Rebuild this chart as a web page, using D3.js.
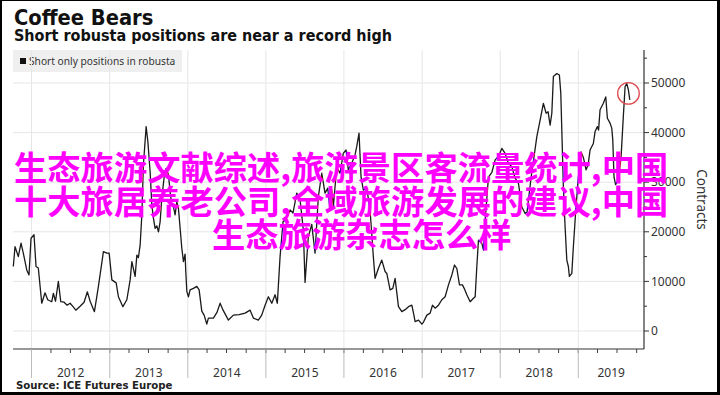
<!DOCTYPE html>
<html>
<head>
<meta charset="utf-8">
<script src="https://cdn.jsdelivr.net/npm/d3@7"></script>
<style>
  body { margin: 0; background: #fff; }
  svg { display: block; }
</style>
</head>
<body>
<script>
// weekly short positions, dates as decimal years, values in contracts
var dates = [
  2011.767, 2011.789, 2011.831, 2011.866, 2011.895, 2011.939, 2011.968, 2011.994,
  2012.032, 2012.058, 2012.087, 2012.131, 2012.173, 2012.207, 2012.259, 2012.279,
  2012.307, 2012.343, 2012.374, 2012.416, 2012.455, 2012.493, 2012.531, 2012.566,
  2012.621, 2012.672, 2012.714, 2012.749, 2012.804, 2012.855, 2012.919, 2012.963,
  2012.992, 2013.027, 2013.082, 2013.111, 2013.168, 2013.219, 2013.261, 2013.283,
  2013.325, 2013.347, 2013.367, 2013.389, 2013.411, 2013.431, 2013.466, 2013.488,
  2013.517, 2013.539, 2013.560, 2013.581, 2013.603, 2013.624, 2013.645, 2013.667,
  2013.700, 2013.722, 2013.752, 2013.773, 2013.795, 2013.816, 2013.837, 2013.859,
  2013.880, 2013.923, 2013.944, 2013.965, 2013.974, 2013.987, 2014.008, 2014.029,
  2014.072, 2014.115, 2014.145, 2014.179, 2014.209, 2014.243, 2014.264, 2014.328,
  2014.375, 2014.414, 2014.452, 2014.520, 2014.584, 2014.657, 2014.734, 2014.798,
  2014.840, 2014.904, 2014.947, 2014.990, 2015.032, 2015.076, 2015.118, 2015.147,
  2015.182, 2015.220, 2015.259, 2015.310, 2015.348, 2015.396, 2015.438, 2015.480,
  2015.502, 2015.544, 2015.588, 2015.630, 2015.672, 2015.716, 2015.758, 2015.793,
  2015.822, 2015.844, 2015.864, 2015.908, 2015.950, 2015.992, 2016.027, 2016.056,
  2016.100, 2016.142, 2016.164, 2016.193, 2016.219, 2016.248, 2016.292, 2016.334,
  2016.376, 2016.398, 2016.440, 2016.484, 2016.526, 2016.548, 2016.590, 2016.625,
  2016.654, 2016.697, 2016.740, 2016.782, 2016.825, 2016.868, 2016.889, 2016.910,
  2016.953, 2016.996, 2017.017, 2017.060, 2017.102, 2017.132, 2017.166, 2017.209,
  2017.252, 2017.294, 2017.337, 2017.380, 2017.414, 2017.444, 2017.478, 2017.516,
  2017.538, 2017.572, 2017.615, 2017.657, 2017.679, 2017.700, 2017.721, 2017.764,
  2017.785, 2017.807, 2017.849, 2017.893, 2017.935, 2017.977, 2018.020, 2018.063,
  2018.105, 2018.149, 2018.191, 2018.233, 2018.277, 2018.319, 2018.344, 2018.396,
  2018.469, 2018.511, 2018.553, 2018.588, 2018.613, 2018.639, 2018.661, 2018.681,
  2018.725, 2018.758, 2018.776, 2018.809, 2018.831, 2018.853, 2018.873, 2018.886,
  2018.917, 2018.937, 2018.968, 2019.001, 2019.036, 2019.065, 2019.100, 2019.126,
  2019.151, 2019.193, 2019.215, 2019.245, 2019.260, 2019.279, 2019.321, 2019.352,
  2019.373, 2019.407, 2019.429, 2019.442, 2019.458, 2019.478, 2019.514, 2019.548,
  2019.578, 2019.600, 2019.621, 2019.642, 2019.660
];
var contracts = [
  13000, 17000, 15000, 17700, 15700, 12300, 11300, 18700,
  19400, 13000, 12700, 5600, 7700, 6300, 5900, 7600,
  6000, 10000, 5900, 5800, 5200, 5600, 4900, 4200,
  5000, 5800, 7900, 6000, 3900, 9000, 16000, 15700,
  15700, 10300, 9700, 6900, 4900, 6300, 10300, 14000,
  11000, 15300, 14800, 17300, 23400, 33500, 41200, 38200,
  32100, 25400, 22700, 20700, 21200, 20000, 22000, 26800,
  31500, 32800, 31500, 28100, 25400, 25000, 23400, 26000,
  24700, 16700, 14000, 15500, 12000, 8000, 6900, 8300,
  8600, 9000, 8300, 4000, 3200, 1400, 2600, 2600,
  3800, 5600, 4200, 2200, 3200, 3300, 3600, 4200,
  2600, 2200, 3200, 5200, 6900, 5600, 7300, 5600,
  15000, 22000, 22500, 24400, 23800, 27800, 26500, 20400,
  9800, 19000, 21500, 15700, 27000, 31800, 27800, 28800,
  24400, 28500, 25000, 33000, 31800, 35800, 36500, 32500,
  33800, 35500, 37200, 39900, 31000, 28400, 28800, 24400,
  15000, 10600, 12600, 14300, 12000, 11600, 8300, 8600,
  10600, 4900, 3900, 4300, 4900, 5200, 3600, 1900,
  2200, 1400, 1800, 3200, 3600, 5200, 4600, 5200,
  6300, 6900, 9300, 11300, 13300, 12600, 9300, 9300,
  8600, 7300, 5900, 6600, 6900, 13000, 18300, 17700,
  16300, 22400, 31000, 32000, 34500, 35200, 36800, 35800,
  33800, 33100, 30800, 29800, 25000, 23700, 24000, 31000,
  39200, 42500, 45900, 43900, 44200, 41500, 43900, 51300,
  51900, 51600, 47900, 29100, 21000, 14300, 13000, 11000,
  11600, 17000, 24400, 31100, 36100, 35000, 32500, 33500,
  36500, 37800, 40200, 41200, 40500, 44600, 45900, 47200,
  42900, 41900, 40900, 38500, 31000, 29500, 30500, 35000,
  43500, 49300, 49900, 48600, 46600
];
var yTicks = [0, 10000, 20000, 30000, 40000, 50000];
var xExtent = [2011.763, 2019.842];
var yExtent = [-3630, 56650];
var highlight = { date: 2019.643, value: 47900 };

var titleText = "Coffee Bears";
var subtitleText = "Short robusta positions are near a record high";
var legendText = "Short only positions in robusta";
var yLabel = "Contracts";
var sourceText = "Source: ICE Futures Europe";
var overlayLines = [
  "生态旅游文献综述,旅游景区客流量统计,中国",
  "十大旅居养老公司,全域旅游发展的建议,中国",
  "生态旅游杂志怎么样"
];

function toDate(t) {
  var yr = Math.floor(t);
  var s = new Date(yr, 0, 1), e = new Date(yr + 1, 0, 1);
  return new Date(+s + (t - yr) * (e - s));
}

var data = dates.map(function(d, i) { return { date: toDate(d), value: contracts[i] }; });

var W = 720, H = 395;
var plot = { left: 13, right: 644, top: 50, bottom: 349 };
var sans = "'Noto Sans', 'Open Sans', sans-serif";
var heavy = "'DejaVu Sans Condensed', 'DejaVu Sans', sans-serif";

var svg = d3.select("body").append("svg").attr("width", W).attr("height", H);
svg.append("rect").attr("width", W).attr("height", H).attr("fill", "#fff");

var x = d3.scaleTime().domain(xExtent.map(toDate)).range([plot.left, plot.right]);
var y = d3.scaleLinear().domain(yExtent).range([plot.bottom, plot.top]);

// titles
svg.append("text").attr("x", 14).attr("y", 25)
  .style("font-family", heavy).style("font-weight", "bold").style("font-size", "21.7px")
  .attr("fill", "#111").text(titleText);
svg.append("text").attr("x", 14).attr("y", 41)
  .style("font-family", heavy).style("font-weight", "bold").style("font-size", "16px")
  .attr("fill", "#111").text(subtitleText);

// legend box (under the grid)
svg.append("rect").attr("x", 13).attr("y", 50).attr("width", 169).attr("height", 22).attr("fill", "#efefef");
svg.append("rect").attr("x", 20).attr("y", 58).attr("width", 6).attr("height", 6).attr("fill", "#111");
svg.append("text").attr("x", 29).attr("y", 65)
  .style("font-family", sans).style("font-size", "10.2px").attr("fill", "#333").text(legendText);

// grid
var years = d3.timeYear.range(x.domain()[0], x.domain()[1]);
var quarters = d3.timeMonth.every(3).range(x.domain()[0], x.domain()[1]);

svg.append("g").selectAll("line").data(yTicks).enter().append("line")
  .attr("x1", plot.left).attr("x2", plot.right)
  .attr("y1", function(d) { return y(d); }).attr("y2", function(d) { return y(d); })
  .attr("stroke", "#e6e6e6").attr("stroke-width", 1);

svg.append("g").selectAll("line").data(years).enter().append("line")
  .attr("x1", function(d) { return x(d); }).attr("x2", function(d) { return x(d); })
  .attr("y1", plot.top).attr("y2", plot.bottom)
  .attr("stroke", "#e6e6e6").attr("stroke-width", 1);

// line
var line = d3.line()
  .x(function(d) { return x(d.date); })
  .y(function(d) { return y(d.value); });

svg.append("path").datum(data)
  .attr("d", line).attr("fill", "none")
  .attr("stroke", "#1a1a1a").attr("stroke-width", 1.3)
  .attr("stroke-linejoin", "round");

// highlight circle
svg.append("circle")
  .attr("cx", x(toDate(highlight.date))).attr("cy", y(highlight.value)).attr("r", 10.8)
  .attr("fill", "none").attr("stroke", "#dd4a4f").attr("stroke-width", 1.3);

// x axis
svg.append("line").attr("x1", plot.left).attr("x2", plot.right)
  .attr("y1", plot.bottom).attr("y2", plot.bottom)
  .attr("stroke", "#333").attr("stroke-width", 1.2);

svg.append("g").selectAll("line").data(quarters).enter().append("line")
  .attr("x1", function(d) { return x(d); }).attr("x2", function(d) { return x(d); })
  .attr("y1", plot.bottom).attr("y2", plot.bottom + 4)
  .attr("stroke", "#444").attr("stroke-width", 1);

svg.append("g").selectAll("line").data(years).enter().append("line")
  .attr("x1", function(d) { return x(d); }).attr("x2", function(d) { return x(d); })
  .attr("y1", plot.bottom).attr("y2", plot.bottom + 29)
  .attr("stroke", "#bbb").attr("stroke-width", 1);

svg.append("g").selectAll("text").data(years).enter().append("text")
  .attr("x", function(d) {
    var a = Math.max(x(d), plot.left), b = Math.min(x(d3.timeYear.offset(d, 1)), plot.right);
    return (a + b) / 2;
  })
  .attr("y", 377).attr("text-anchor", "middle")
  .style("font-family", sans).style("font-size", "12px").attr("fill", "#333")
  .text(function(d) { return d.getFullYear(); });

// y axis on the right
svg.append("line").attr("x1", plot.right).attr("x2", plot.right)
  .attr("y1", plot.top).attr("y2", plot.bottom)
  .attr("stroke", "#333").attr("stroke-width", 1.2);

var minorTicks = d3.range(0, 56000, 5000);
svg.append("g").selectAll("line").data(minorTicks).enter().append("line")
  .attr("x1", plot.right).attr("x2", function(d) { return d % 10000 === 0 ? plot.right + 5 : plot.right + 3; })
  .attr("y1", function(d) { return y(d); }).attr("y2", function(d) { return y(d); })
  .attr("stroke", "#333").attr("stroke-width", 1);

svg.append("g").selectAll("text").data(yTicks).enter().append("text")
  .attr("x", plot.right + 7).attr("y", function(d) { return y(d); })
  .attr("dy", "0.35em")
  .style("font-family", sans).style("font-size", "12px").attr("fill", "#333")
  .text(function(d) { return d; });

svg.append("text")
  .attr("transform", "translate(697," + ((plot.top + plot.bottom) / 2) + ") rotate(90)")
  .attr("text-anchor", "middle")
  .style("font-family", sans).style("font-size", "13.5px").attr("fill", "#333")
  .text(yLabel);

// source
svg.append("text").attr("x", 16).attr("y", 389)
  .style("font-family", heavy).style("font-weight", "bold").style("font-size", "11.3px")
  .attr("fill", "#222").text(sourceText);

// magenta overlay text
var overlayPos = [[14, 180], [14, 214], [212, 247]];
svg.append("g").selectAll("text").data(overlayLines).enter().append("text")
  .attr("x", function(d, i) { return overlayPos[i][0]; })
  .attr("y", function(d, i) { return overlayPos[i][1]; })
  .style("font-family", "'Noto Sans CJK SC', sans-serif").style("font-weight", "bold")
  .style("font-size", "33.3px").attr("fill", "#ff00ff")
  .text(function(d) { return d; });

// outer frame
svg.append("rect").attr("x", 0).attr("y", 0).attr("width", 2).attr("height", H).attr("fill", "#000");
svg.append("rect").attr("x", W - 3).attr("y", 0).attr("width", 3).attr("height", H).attr("fill", "#000");
svg.append("rect").attr("x", 0).attr("y", H - 3).attr("width", W).attr("height", 3).attr("fill", "#000");
svg.append("rect").attr("x", 0).attr("y", 0).attr("width", W).attr("height", 1).attr("fill", "#000");
</script>
</body>
</html>
